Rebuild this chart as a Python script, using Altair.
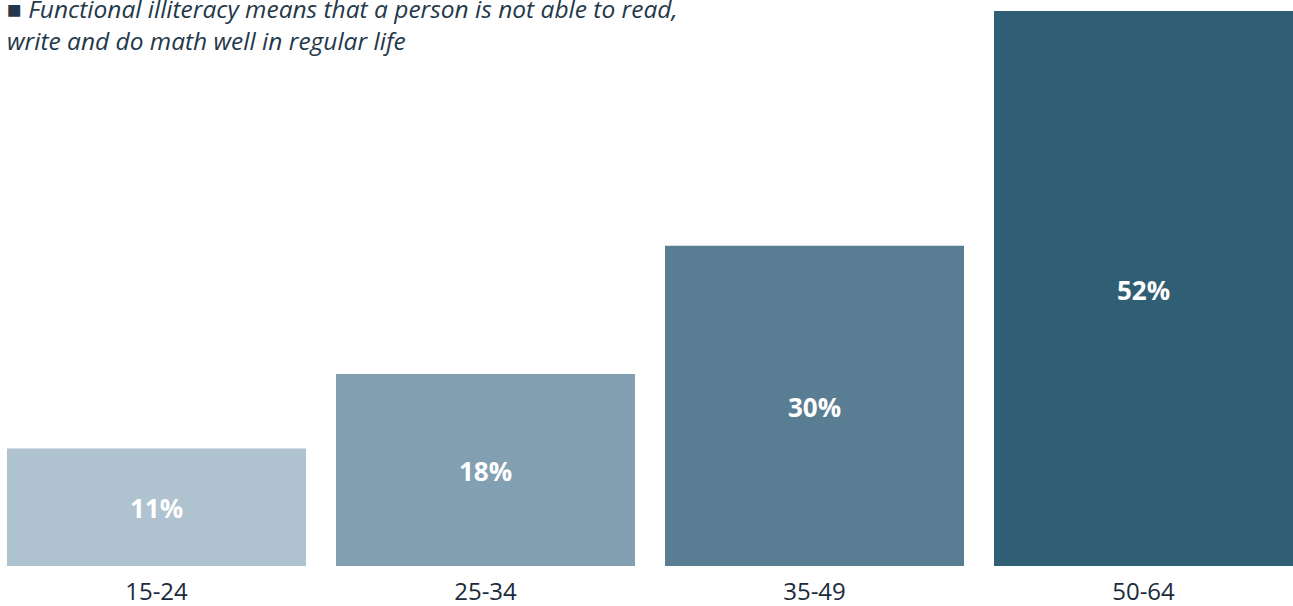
import altair as alt
import pandas as pd

categories = ["15-24", "25-34", "35-49", "50-64"]
values = [11, 18, 30, 52]
labels = ["11%", "18%", "30%", "52%"]
colors = ["#afc2cf", "#839fb2", "#597d92", "#2f5e75"]
note_lines = [
    "\u25a0 Functional illiteracy means that a person is not able to read,",
    "write and do math well in regular life",
]

df = pd.DataFrame({"age": categories, "value": values, "label": labels})

base = alt.Chart(df).encode(
    x=alt.X(
        "age:N",
        sort=categories,
        scale=alt.Scale(paddingInner=0.0912, paddingOuter=0),
        axis=alt.Axis(
            title=None,
            labelAngle=0,
            labelFont="Open Sans",
            labelFontSize=24,
            labelColor="#1b2b3b",
            labelPadding=14,
            domain=False,
            ticks=False,
            grid=False,
        ),
    )
)

bars = base.mark_bar().encode(
    y=alt.Y("value:Q", scale=alt.Scale(domain=[0, 52], nice=False), axis=None),
    color=alt.Color(
        "age:N",
        scale=alt.Scale(domain=categories, range=colors),
        legend=None,
    ),
)

texts = base.transform_calculate(mid="datum.value / 2").mark_text(
    font="Open Sans",
    fontSize=26,
    fontWeight="bold",
    color="white",
    baseline="middle",
    align="center",
    dy=3,
).encode(
    y=alt.Y("mid:Q", scale=alt.Scale(domain=[0, 52], nice=False), axis=None),
    text="label:N",
)

note = alt.Chart(pd.DataFrame({"t": [note_lines]})).mark_text(
    align="left",
    baseline="alphabetic",
    font="Open Sans",
    fontStyle="italic",
    fontSize=24.5,
    lineHeight=32,
    color="#24384a",
).encode(
    x=alt.value(0),
    y=alt.value(7),
    text="t",
)

chart = (
    alt.layer(bars, texts, note)
    .properties(
        width=1286,
        height=555,
        padding={"left": 7, "top": 11, "right": 0, "bottom": 40},
        autosize=alt.AutoSizeParams(type="none"),
    )
    .configure_view(stroke=None)
)

chart.save("out.html", embed_options={"renderer": "svg", "actions": False})
